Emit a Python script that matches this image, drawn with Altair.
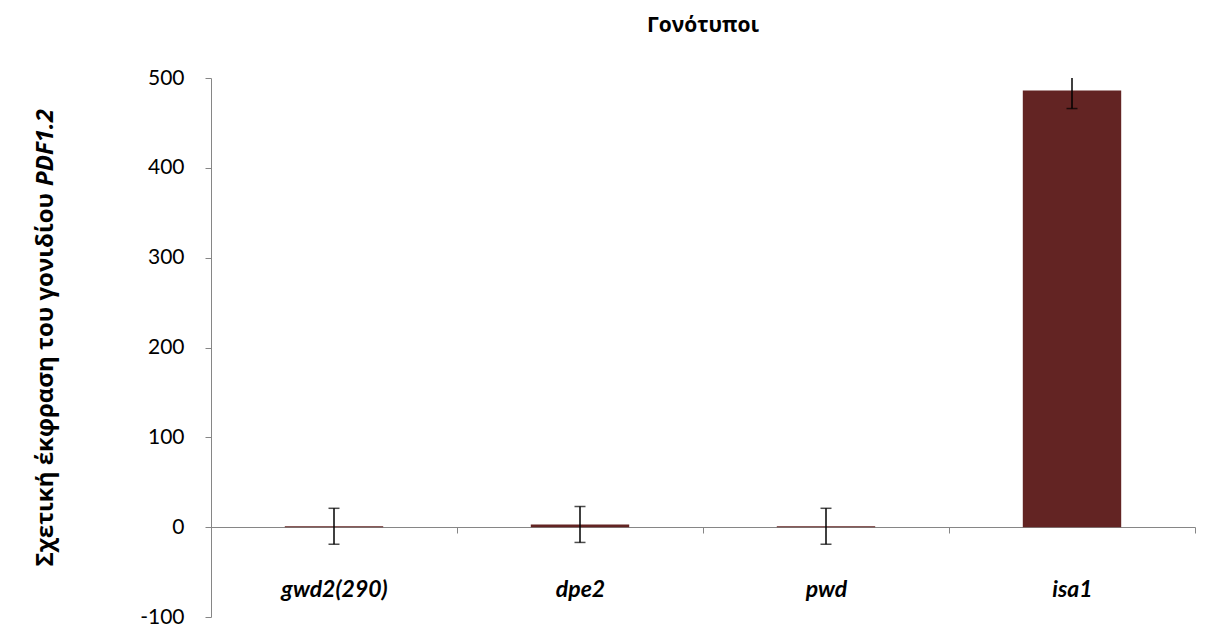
import altair as alt
import pandas as pd

genotypes = ["gwd2(290)", "dpe2", "pwd", "isa1"]
values = [1, 3, 1, 486]
errors = [20, 20, 20, 20]

df = pd.DataFrame({"g": genotypes, "v": values, "e": errors})
df["lo"] = df["v"] - df["e"]
df["hi"] = df["v"] + df["e"]

FONT = "Lato"
GREEK = "Open Sans"
AXIS_GRAY = "#868686"

x_enc = alt.X(
    "g:N",
    sort=genotypes,
    scale=alt.Scale(paddingInner=0, paddingOuter=0),
    axis=alt.Axis(
        title=None,
        offset=-90,
        tickBand="extent",
        tickSize=6,
        tickColor=AXIS_GRAY,
        domainColor=AXIS_GRAY,
        labelAngle=0,
        labelPadding=45,
        labelFont=FONT,
        labelFontSize=23,
        labelFontWeight="bold",
        labelFontStyle="italic",
        labelColor="black",
    ),
)
y_scale = alt.Scale(domain=[-100, 500], nice=False)
y_enc = alt.Y(
    "v:Q",
    scale=y_scale,
    axis=alt.Axis(
        title=None,
        values=[-100, 0, 100, 200, 300, 400, 500],
        labelExpr="replace(datum.label, '\u2212', '-')",
        grid=False,
        tickSize=6,
        tickColor=AXIS_GRAY,
        domainColor=AXIS_GRAY,
        labelPadding=21,
        labelFont=FONT,
        labelFontSize=21,
        labelColor="black",
    ),
)

base = alt.Chart(df)

bars = base.mark_bar(color="#632423", width=alt.RelativeBandSize(0.4)).encode(x=x_enc, y=y_enc)

err = base.mark_rule(color="black", strokeWidth=1.5, clip=True).encode(
    x=alt.X("g:N", sort=genotypes),
    y=alt.Y("lo:Q", scale=y_scale),
    y2="hi:Q",
)
cap_lo = base.mark_tick(color="black", thickness=1.5, size=11, orient="horizontal", clip=True).encode(
    x=alt.X("g:N", sort=genotypes), y=alt.Y("lo:Q", scale=y_scale)
)
cap_hi = base.mark_tick(color="black", thickness=1.5, size=11, orient="horizontal", clip=True).encode(
    x=alt.X("g:N", sort=genotypes), y=alt.Y("hi:Q", scale=y_scale)
)

ytitle_main = alt.Chart(pd.DataFrame({"t": ["Σχετική έκφραση του γονιδίου"]})).mark_text(
    angle=270, align="right", baseline="middle", font=GREEK, fontSize=24, fontWeight="bold", color="black"
).encode(x=alt.value(-165), y=alt.value(115), text="t:N")

ytitle_gene = alt.Chart(pd.DataFrame({"t": ["PDF1.2"]})).mark_text(
    angle=270, align="left", baseline="middle", font=GREEK, fontSize=24, fontWeight="bold",
    fontStyle="italic", color="black"
).encode(x=alt.value(-165), y=alt.value(108), text="t:N")

chart = alt.layer(bars, err, cap_lo, cap_hi, ytitle_main, ytitle_gene).properties(
    width=984,
    height=539,
    autosize=alt.AutoSizeParams(type="none"),
    padding={"left": 203, "top": 70, "right": 3, "bottom": 12},
    title=alt.TitleParams(
        "Γονότυποι", font=GREEK, fontSize=21, fontWeight="bold", color="black",
        anchor="middle", offset=31,
    ),
).configure_view(stroke=None)

chart.save("out.html", embed_options={"renderer": "svg", "actions": False})
